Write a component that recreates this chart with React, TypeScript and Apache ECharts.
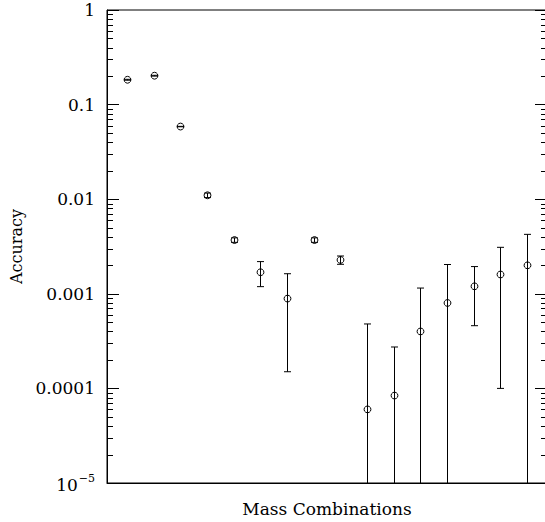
import React, { useEffect, useRef } from "react";
import * as echarts from "echarts";

// Mass combination index (horizontal position of each measurement)
const combinationIndex = [1, 2, 3, 4, 5, 6, 7, 8, 9, 10, 11, 12, 13, 14, 15, 16];
// Accuracy values
const accuracy = [
  0.183, 0.202, 0.0586, 0.011, 0.0037, 0.00169, 0.00089, 0.0037, 0.00228,
  0.00006, 0.000084, 0.0004, 0.0008, 0.0012, 0.0016, 0.002,
];
// Symmetric error (±) on each accuracy value
const accuracyError = [
  0.002, 0.002, 0.0003, 0.0006, 0.0002, 0.0005, 0.00074, 0.0002, 0.00023,
  0.00042, 0.00019, 0.00075, 0.00124, 0.00074, 0.0015, 0.00225,
];
// Y-axis tick values and labels
const yTickValues = [1, 0.1, 0.01, 0.001, 0.0001, 0.00001];
const yTickLabels = ["1", "0.1", "0.01", "0.001", "0.0001", "{base|10}{sup|−5}"];
// Minor tick multipliers within each decade
const decades = [0.00001, 0.0001, 0.001, 0.01, 0.1];
const minorMultipliers = [2, 3, 4, 5, 6, 7, 8, 9];

const Y_MIN = 0.00001;
const Y_MAX = 1;
const FONT = "DejaVu Serif";

export default function App() {
  const ref = useRef<HTMLDivElement>(null);

  useEffect(() => {
    if (!ref.current) return;
    const chart = echarts.init(ref.current, undefined, { renderer: "svg" });

    const pointData = combinationIndex.map((x, i) => [x, accuracy[i], accuracyError[i]]);
    const minorData: number[][] = [];
    decades.forEach((d) => minorMultipliers.forEach((m) => minorData.push([1, d * m])));

    const labelFor = (v: number) => {
      for (let i = 0; i < yTickValues.length; i++) {
        if (Math.abs(Math.log10(v) - Math.log10(yTickValues[i])) < 1e-6) return yTickLabels[i];
      }
      return "";
    };

    const black = "#000";

    chart.setOption({
      animation: false,
      textStyle: { fontFamily: FONT, color: black },
      grid: {
        left: 107,
        right: 8,
        top: 10,
        bottom: 37,
        show: true,
        borderColor: black,
        borderWidth: 1,
        containLabel: false,
      },
      xAxis: {
        type: "value",
        min: 0.25,
        max: 16.75,
        axisLine: { show: true, lineStyle: { color: black, width: 1 } },
        axisTick: { show: false },
        axisLabel: { show: false },
        splitLine: { show: false },
        name: "Mass Combinations",
        nameLocation: "middle",
        nameGap: 17,
        nameTextStyle: { fontFamily: FONT, fontSize: 17, color: black },
      },
      yAxis: [
        {
          type: "log",
          logBase: 10,
          min: Y_MIN,
          max: Y_MAX,
          position: "left",
          axisLine: { show: true, lineStyle: { color: black, width: 1 } },
          axisTick: { show: true, inside: true, length: 12, lineStyle: { color: black, width: 1 } },
          axisLabel: {
            show: true,
            margin: 12,
            fontFamily: FONT,
            fontSize: 17,
            color: black,
            formatter: (v: number) => labelFor(v),
            rich: {
              base: { fontFamily: FONT, fontSize: 17, color: black, padding: [4, 0, 0, 0] },
              sup: { fontFamily: FONT, fontSize: 11, color: black, verticalAlign: "top", padding: [0, 0, 10, 1] },
            },
          },
          splitLine: { show: false },
          name: "Accuracy",
          nameLocation: "middle",
          nameGap: 78,
          nameTextStyle: { fontFamily: FONT, fontSize: 16, color: black },
        },
        {
          type: "log",
          logBase: 10,
          min: Y_MIN,
          max: Y_MAX,
          position: "right",
          axisLine: { show: true, lineStyle: { color: black, width: 1 } },
          axisTick: { show: true, inside: true, length: 12, lineStyle: { color: black, width: 1 } },
          axisLabel: { show: false },
          splitLine: { show: false },
        },
      ],
      series: [
        {
          type: "custom",
          name: "minorTicks",
          coordinateSystem: "cartesian2d",
          yAxisIndex: 0,
          silent: true,
          clip: false,
          data: minorData,
          encode: { x: 0, y: 1 },
          renderItem: (params: any, api: any) => {
            const cs = params.coordSys;
            const y = Math.round(api.coord([1, api.value(1)])[1]) + 0.5;
            const style = { stroke: black, lineWidth: 1 };
            return {
              type: "group",
              children: [
                { type: "line", shape: { x1: cs.x, y1: y, x2: cs.x + 6, y2: y }, style },
                { type: "line", shape: { x1: cs.x + cs.width - 6, y1: y, x2: cs.x + cs.width, y2: y }, style },
              ],
            };
          },
        },
        {
          type: "custom",
          name: "accuracy",
          coordinateSystem: "cartesian2d",
          yAxisIndex: 0,
          clip: false,
          data: pointData,
          encode: { x: 0, y: 1 },
          renderItem: (params: any, api: any) => {
            const cs = params.coordSys;
            const x = api.value(0);
            const v = api.value(1);
            const e = api.value(2);
            const p = api.coord([x, v]);
            const cx = Math.round(p[0]) + 0.5;
            const cy = p[1];
            const topY = api.coord([x, v + e])[1];
            const low = v - e;
            const below = !(low >= Y_MIN);
            const botY = below ? cs.y + cs.height : api.coord([x, low])[1];
            const style = { stroke: black, lineWidth: 1, fill: "none" };
            const capW = 3.5;
            const children: any[] = [
              { type: "line", shape: { x1: cx, y1: topY, x2: cx, y2: botY }, style },
              { type: "line", shape: { x1: cx - capW, y1: topY, x2: cx + capW, y2: topY }, style },
            ];
            if (!below) {
              children.push({ type: "line", shape: { x1: cx - capW, y1: botY, x2: cx + capW, y2: botY }, style });
            }
            children.push({ type: "circle", shape: { cx, cy, r: 3.4 }, style: { stroke: black, lineWidth: 1, fill: "none" } });
            return { type: "group", children };
          },
        },
      ],
    });

    return () => chart.dispose();
  }, []);

  return (
    <div style={{ position: "fixed", left: 0, top: 0, width: 545, height: 522, overflow: "hidden", background: "#fff" }}>
      <div ref={ref} style={{ width: 555, height: 522 }} />
    </div>
  );
}
